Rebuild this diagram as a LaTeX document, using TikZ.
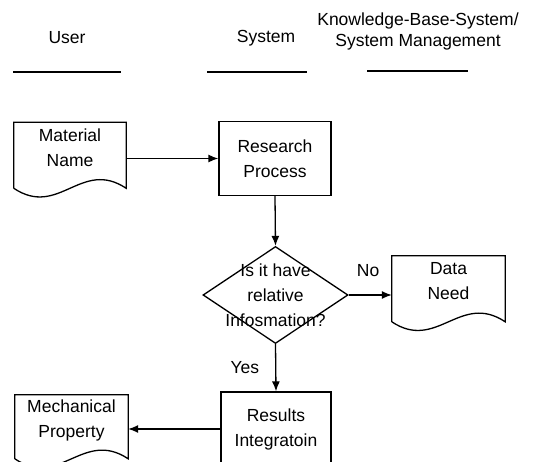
\documentclass[tikz,border=0pt]{standalone}
\usepackage{fontspec}
\setmainfont{Liberation Sans}
\usetikzlibrary{positioning,shapes.geometric,arrows.meta}

\tikzset{
  box/.style={draw, line width=1.3pt, minimum width=112pt, minimum height=74pt, inner sep=0pt, align=center},
  docbox/.style={minimum width=112pt, minimum height=50pt, inner sep=0pt, align=center},
  decision/.style={draw, diamond, line width=1.3pt, minimum width=145pt, minimum height=97pt, inner sep=0pt},
  arr/.style={-{Latex[length=10pt,width=8pt]}, line width=1.3pt},
  lbl/.style={inner sep=0pt, align=center}
}

% document outline: node name, side length
\newcommand{\docwave}[2]{%
  \draw[line width=1.3pt] ([yshift=-#2pt]#1.north west) -- (#1.north west) -- (#1.north east) -- ([yshift=-#2pt]#1.north east)
    .. controls +(-45,-30) and +(45,30) .. ([yshift=-#2pt]#1.north west);
}

\begin{document}
\begin{tikzpicture}[x=1pt, y=-1pt, font=\fontsize{17.5}{25}\selectfont]
            \useasboundingbox (0,0) rectangle (543,462);
            \clip (0,0) rectangle (543,462);
            % Column headers
            \node[lbl] (user) at (67,38) {User};
            \node[lbl] (sys) at (266,38) {System};
            \node[lbl, font=\fontsize{17.5}{21}\selectfont] (kbs) at (418,31) {Knowledge-Base-System/\\System Management};
            \draw[line width=1.3pt] (13,72) -- (121,72);
            \draw[line width=1.3pt] (207,72) -- (307,72);
            \draw[line width=1.3pt] (367,71) -- (468,71);
            % Process boxes
            \node[box] (rp) at (275,158.5) {Research\\Process};
            \node[decision] (dec) at (275.5,295) {};
            \node[lbl] (q) at (dec) {Is it have\\relative\\Infosmation?};
            \node[box, minimum width=110pt] (ri) at (276,429) {Results\\Integratoin};
            % Documents
            \node[docbox] (mat) at (70,147.5) {Material\\Name};
            \node[docbox, minimum width=113pt] (dn) at (448.5,281) {Data\\Need};
            \node[docbox, minimum width=113pt] (mp) at (71.5,420) {Mechanical\\Property};
            \docwave{mat}{66}
            \docwave{dn}{66}
            \docwave{mp}{64}
            % Flow
            \draw[arr] (rp.west -| mat.east) -- (rp.west);
            \draw[arr] (rp.south) -- (dec.north);
            \draw[arr] (dec.east) -- node[lbl, above=18pt, pos=0.45] (no) {No} (dec.east -| dn.west);
            \draw[arr] (dec.south) -- node[lbl, left=16pt] (yes) {Yes} (ri.north);
            \draw[arr] (ri.west) -- (ri.west -| mp.east);
\end{tikzpicture}
\end{document}
